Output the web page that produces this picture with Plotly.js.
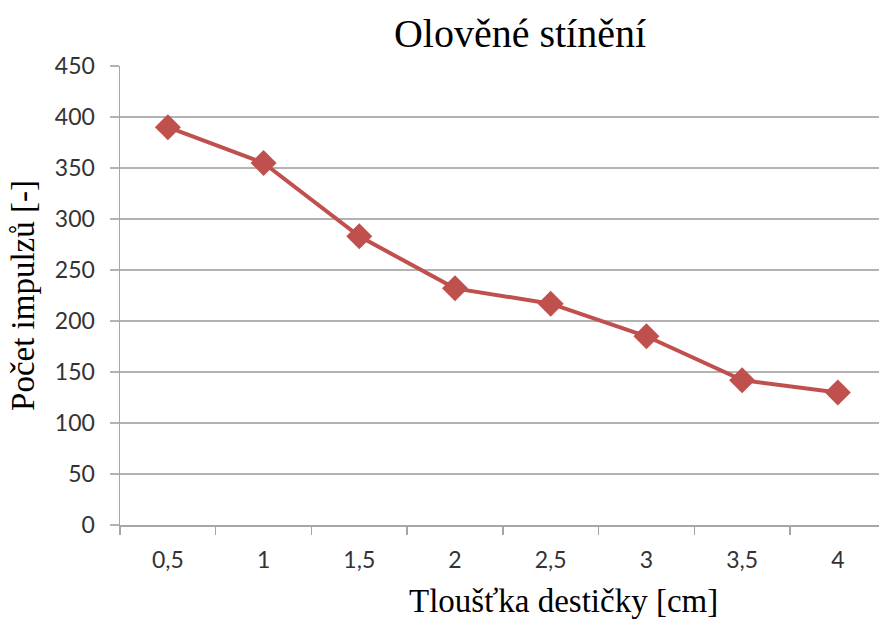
<!DOCTYPE html>
<html><head><meta charset="utf-8">
<script src="https://cdn.plot.ly/plotly-3.0.1.min.js"></script>
<style>html,body{margin:0;padding:0;background:#fff;}#chart{width:879px;height:619px;}</style>
</head><body><div id="chart"></div>
<script>
const categories = ["0,5","1","1,5","2","2,5","3","3,5","4"];
const pulses = [390, 355, 283, 232, 217, 185, 142, 130];
const yTicks = [0,50,100,150,200,250,300,350,400,450];

const tickFont = {family: "Lato", size: 23, color: "#333333"};
const serif = "Liberation Serif, Times New Roman, serif";

const trace = {
  type: "scatter", mode: "lines+markers",
  x: categories, y: pulses,
  line: {color: "#c0504d", width: 4},
  marker: {symbol: "diamond", size: 20, color: "#c0504d"},
  cliponaxis: false
};
const layout = {
  width: 879, height: 619,
  margin: {l: 120, r: 0, t: 66, b: 94},
  paper_bgcolor: "#fff", plot_bgcolor: "#fff",
  showlegend: false,
  title: {text: "Olověné stínění", x: 520/879, xanchor: "center", y: 1 - 33/619, yanchor: "middle",
          font: {family: serif, size: 40, color: "#000"}},
  xaxis: {
    type: "category", range: [-0.5, 7.43],
    showgrid: false, zeroline: false,
    showline: true, linecolor: "#a6a6a6", linewidth: 1.5,
    ticks: "outside", tickson: "boundaries", ticklen: 8, tickcolor: "#a6a6a6", tickwidth: 1.5,
    ticklabelstandoff: 14,
    tickfont: tickFont
  },
  yaxis: {
    range: [0, 450], tickvals: yTicks,
    showgrid: true, gridcolor: "#b3b3b3", gridwidth: 1.5,
    zeroline: false,
    showline: true, linecolor: "#a6a6a6", linewidth: 1.5,
    ticks: "outside", ticklen: 9, tickcolor: "#b3b3b3", tickwidth: 1.5,
    ticklabelstandoff: 10,
    tickfont: tickFont,
    title: {text: "Počet impulzů [-]", standoff: 10, font: {family: serif, size: 33, color: "#000"}}
  },
  annotations: [{
    text: "Tloušťka destičky [cm]", xref: "paper", yref: "paper",
    x: (563-120)/759, y: -(601-525)/459, xanchor: "center", yanchor: "middle",
    showarrow: false, font: {family: serif, size: 33, color: "#000"}
  }]
};
Plotly.newPlot("chart", [trace], layout, {displayModeBar: false, staticPlot: true});
</script></body></html>
